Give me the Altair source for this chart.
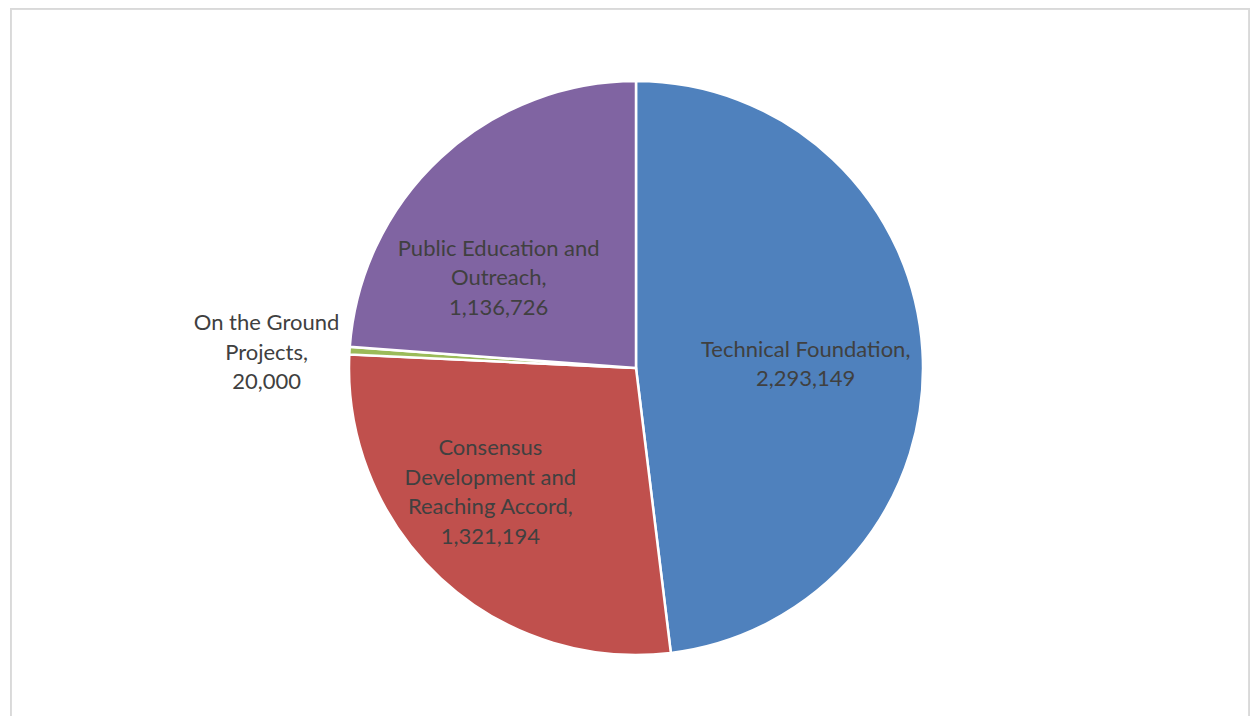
import altair as alt
import pandas as pd

categories = ["Technical Foundation", "Consensus Development and Reaching Accord",
              "On the Ground Projects", "Public Education and Outreach"]
values = [2293149, 1321194, 20000, 1136726]
label_lines = [
    "Technical Foundation,\n2,293,149",
    "Consensus\nDevelopment and\nReaching Accord,\n1,321,194",
    "On the Ground\nProjects,\n20,000",
    "Public Education and\nOutreach,\n1,136,726",
]
colors = ["#4F81BD", "#C0504D", "#9BBB59", "#8064A2"]

df = pd.DataFrame({"category": categories, "value": values,
                   "label": label_lines, "idx": list(range(len(categories)))})

CX, CY = 626, 360
W, H = 1240, 708
LH = 29.5

base = alt.Chart(df).encode(
    theta=alt.Theta("value:Q", stack=True),
    order=alt.Order("idx:Q"),
    x=alt.value(CX),
    y=alt.value(CY),
)

pie = base.mark_arc(outerRadius=287, stroke="white", strokeWidth=2.5).encode(
    color=alt.Color("category:N", scale=alt.Scale(domain=categories, range=colors),
                    legend=None)
)

def label_layer(cat, nlines, radius, dx, dy):
    return base.transform_calculate(
        show=f"datum.category == '{cat}' ? datum.label : ''"
    ).mark_text(
        radius=radius, dx=dx, dy=dy - (nlines - 1) * LH / 2, lineBreak="\n",
        align="center", baseline="middle",
        font="Lato", fontSize=22, lineHeight=LH, color="#404040"
    ).encode(text="show:N")

labels = [
    label_layer(categories[0], 2, 170, 0, 7),
    label_layer(categories[1], 4, 192, -15, -16),
    label_layer(categories[2], 3, 300, -70, 3),
    label_layer(categories[3], 3, 165, -25, 31),
]

frame = [
    alt.Chart(df).mark_rule(color="#d9d9d9", strokeWidth=1.5).encode(
        x=alt.value(0.75), y=alt.value(0), y2=alt.value(H + 10)),
    alt.Chart(df).mark_rule(color="#d9d9d9", strokeWidth=1.5).encode(
        x=alt.value(0), x2=alt.value(W), y=alt.value(0.75)),
    alt.Chart(df).mark_rule(color="#d9d9d9", strokeWidth=1.5).encode(
        x=alt.value(W - 0.75), y=alt.value(0), y2=alt.value(H + 10)),
]

chart = alt.layer(*frame, pie, *labels).properties(
    width=W, height=H, padding={"left": 2, "top": 0, "right": 0, "bottom": 0},
    autosize=alt.AutoSizeParams(type="none"),
).configure_view(strokeWidth=0)

chart.save("out.html", embed_options={"renderer": "svg", "actions": False})
